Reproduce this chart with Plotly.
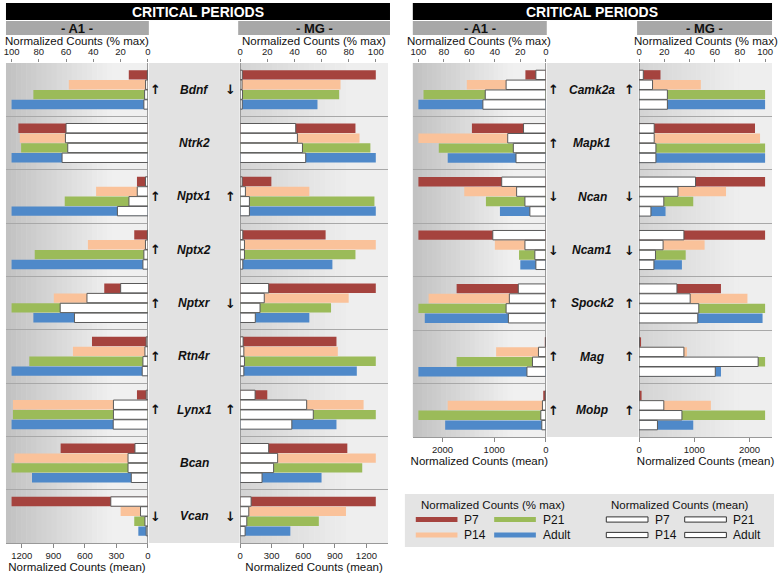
import plotly.graph_objects as go

# ---------------- data ----------------
PERIODS = ["P7", "P14", "P21", "Adult"]
COLORS = ["#A5433E", "#FAC29A", "#9BBB59", "#4F89C9"]

GENES_L = ["Bdnf", "Ntrk2", "Nptx1", "Nptx2", "Nptxr", "Rtn4r", "Lynx1", "Bcan", "Vcan"]
GENES_R = ["Camk2a", "Mapk1", "Ncan", "Ncam1", "Spock2", "Mag", "Mobp"]

# left panel, A1, % max
A1L_PCT_P7 = [14, 95, 8, 10, 32, 41, 8, 64, 100]
A1L_PCT_P14 = [58, 94, 38, 44, 69, 55, 99, 98, 20]
A1L_PCT_P21 = [84, 93, 61, 83, 100, 87, 99, 100, 10]
A1L_PCT_AD = [100, 100, 100, 100, 84, 100, 100, 85, 7]
# left panel, A1, mean counts
A1L_MEAN_P7 = [5, 779, 23, 5, 259, 16, 16, 123, 353]
A1L_MEAN_P14 = [22, 785, 101, 23, 580, 28, 328, 189, 70]
A1L_MEAN_P21 = [31, 763, 180, 38, 835, 47, 328, 189, 28]
A1L_MEAN_AD = [38, 817, 290, 47, 699, 54, 330, 158, 16]
# left panel, MG, % max
MGL_PCT_P7 = [100, 85, 23, 63, 100, 71, 20, 79, 100]
MGL_PCT_P14 = [74, 88, 51, 100, 80, 72, 91, 100, 78]
MGL_PCT_P21 = [73, 96, 99, 85, 67, 100, 100, 90, 58]
MGL_PCT_AD = [57, 100, 100, 68, 51, 86, 71, 60, 37]
# left panel, MG, mean counts
MGL_MEAN_P7 = [20, 528, 19, 25, 271, 28, 142, 271, 104]
MGL_MEAN_P14 = [18, 544, 50, 41, 229, 35, 632, 356, 82]
MGL_MEAN_P21 = [22, 592, 88, 41, 189, 41, 695, 318, 63]
MGL_MEAN_AD = [20, 623, 88, 25, 144, 35, 491, 208, 47]

# right panel, A1, % max
A1R_PCT_P7 = [16, 58, 100, 100, 70, 0.5, 2]
A1R_PCT_P14 = [62, 100, 64, 40, 92, 39, 77]
A1R_PCT_P21 = [96, 84, 47, 21, 100, 70, 100]
A1R_PCT_AD = [100, 77, 36, 20, 95, 100, 79]
# right panel, A1, mean counts
A1R_MEAN_P7 = [192, 431, 854, 1027, 533, 3, 10]
A1R_MEAN_P14 = [769, 738, 565, 404, 706, 142, 65]
A1R_MEAN_P21 = [1173, 629, 404, 212, 769, 258, 96]
A1R_MEAN_AD = [1219, 577, 308, 192, 725, 365, 77]
# right panel, MG, % max
MGR_PCT_P7 = [17, 92, 100, 100, 65, 0.8, 2]
MGR_PCT_P14 = [49, 96, 69, 52, 86, 38, 57]
MGR_PCT_P21 = [100, 100, 43, 37, 100, 100, 100]
MGR_PCT_AD = [100, 100, 21, 34, 98, 65, 43]
# right panel, MG, mean counts
MGR_MEAN_P7 = [77, 274, 1022, 812, 686, 5, 5]
MGR_MEAN_P14 = [244, 274, 704, 435, 925, 812, 448]
MGR_MEAN_P21 = [513, 305, 448, 297, 1081, 2156, 776]
MGR_MEAN_AD = [513, 305, 215, 269, 1063, 1380, 333]

ARROWS_A1L = ["↑", "", "↑", "↑", "↑", "↑", "↑", "", "↓"]
ARROWS_MGL = ["↓", "", "↑", "", "↓", "", "↑", "", "↓"]
ARROWS_A1R = ["↑", "↑", "↓", "↓", "↑", "↑", "↑"]
ARROWS_MGR = ["↑", "", "↓", "↓", "↑", "↑", "↑"]

PCT_TICKS = [0, 20, 40, 60, 80, 100]
MEAN_TICKS_L = [0, 300, 600, 900, 1200]
MEAN_TICKS_R = [0, 1000, 2000]

# ---------------- layout helpers ----------------
W, H = 778, 573
FONT = "Liberation Sans, Arial, sans-serif"


def fx(px):
    return px / W


def fy(py):
    return 1 - py / H


fig = go.Figure()

panels = [
    dict(genes=GENES_L, y="y", xp="x", xm="x2",
         pct=[A1L_PCT_P7, A1L_PCT_P14, A1L_PCT_P21, A1L_PCT_AD],
         mean=[A1L_MEAN_P7, A1L_MEAN_P14, A1L_MEAN_P21, A1L_MEAN_AD]),
    dict(genes=GENES_L, y="y", xp="x3", xm="x4",
         pct=[MGL_PCT_P7, MGL_PCT_P14, MGL_PCT_P21, MGL_PCT_AD],
         mean=[MGL_MEAN_P7, MGL_MEAN_P14, MGL_MEAN_P21, MGL_MEAN_AD]),
    dict(genes=GENES_R, y="y2", xp="x5", xm="x6",
         pct=[A1R_PCT_P7, A1R_PCT_P14, A1R_PCT_P21, A1R_PCT_AD],
         mean=[A1R_MEAN_P7, A1R_MEAN_P14, A1R_MEAN_P21, A1R_MEAN_AD]),
    dict(genes=GENES_R, y="y2", xp="x7", xm="x8",
         pct=[MGR_PCT_P7, MGR_PCT_P14, MGR_PCT_P21, MGR_PCT_AD],
         mean=[MGR_MEAN_P7, MGR_MEAN_P14, MGR_MEAN_P21, MGR_MEAN_AD]),
]

for p in panels:
    for k, per in enumerate(PERIODS):
        fig.add_trace(go.Bar(
            orientation="h", y=p["genes"], x=p["pct"][k], name=per,
            xaxis=p["xp"], yaxis=p["y"], marker=dict(color=COLORS[k], line=dict(width=0)),
            showlegend=False, hoverinfo="x+y+name"))
    for k, per in enumerate(PERIODS):
        fig.add_trace(go.Bar(
            orientation="h", y=p["genes"], x=p["mean"][k], name=per + " (mean)",
            xaxis=p["xm"], yaxis=p["y"],
            marker=dict(color="white", line=dict(color="#5a5a5a", width=1)),
            showlegend=False, hoverinfo="x+y+name"))

# panel pixel geometry
DOM_A1L = (3, 146)
DOM_MGL = (239, 388)
DOM_A1R = (413, 547)
DOM_MGR = (641, 775)
TOP = 63
BOT_L = 543
BOT_R = 437

tickfont = dict(family=FONT, size=9.5, color="#222")
titlefont = dict(family=FONT, size=11.5, color="#111")


def pct_axis(dom, rng, anchor):
    return dict(domain=[fx(dom[0]), fx(dom[1])], range=rng, side="top", anchor=anchor,
                tickvals=PCT_TICKS, ticks="outside", ticklen=3, tickcolor="#888",
                tickfont=tickfont, showgrid=False, showline=False,
                zeroline=True, zerolinecolor="#999", zerolinewidth=1,
                fixedrange=True)


def mean_axis(over, rng, ticks, anchor):
    return dict(overlaying=over, range=rng, side="bottom", anchor=anchor,
                tickvals=ticks, ticks="outside", ticklen=4, tickcolor="#888",
                tickfont=tickfont, showgrid=False, showline=True, linecolor="#999",
                zeroline=False,
                title=dict(text="Normalized Counts (mean)", font=titlefont, standoff=1),
                fixedrange=True)


def y_axis(genes, bot):
    return dict(domain=[fy(bot), fy(TOP)], type="category", categoryorder="array",
                categoryarray=genes, range=[len(genes) - 0.5, -0.5],
                showticklabels=False, ticks="", tickson="boundaries",
                showgrid=True, gridcolor="#a8a8a8", gridwidth=1, zeroline=False,
                showline=False, fixedrange=True)


fig.update_layout(
    width=W, height=H, autosize=False,
    margin=dict(l=0, r=0, t=0, b=0),
    paper_bgcolor="white", plot_bgcolor="rgba(0,0,0,0)",
    barmode="group", bargap=0.26, bargroupgap=0.05,
    font=dict(family=FONT, color="#111"),
    showlegend=False,
    xaxis=pct_axis(DOM_A1L, [104.1, 0], "y"),
    xaxis2=mean_axis("x", [1351, 0], MEAN_TICKS_L, "y"),
    xaxis3=pct_axis(DOM_MGL, [0, 109], "y"),
    xaxis4=mean_axis("x3", [0, 1405], MEAN_TICKS_L, "y"),
    xaxis5=pct_axis(DOM_A1R, [104.4, 0], "y2"),
    xaxis6=mean_axis("x5", [2577, 0], MEAN_TICKS_R, "y2"),
    xaxis7=pct_axis(DOM_MGR, [0, 105.5], "y2"),
    xaxis8=mean_axis("x7", [0, 2407], MEAN_TICKS_R, "y2"),
    yaxis=y_axis(GENES_L, BOT_L),
    yaxis2=y_axis(GENES_R, BOT_R),
)

shapes = []


def rect(x0, y0, x1, y1, color, line=None, layer="above"):
    d = dict(type="rect", xref="paper", yref="paper",
             x0=fx(x0), x1=fx(x1), y0=fy(y1), y1=fy(y0),
             fillcolor=color, layer=layer)
    d["line"] = line if line else dict(width=0)
    return d


def gradient(dom, bot, c_left, c_right, n=28):
    x0, x1 = dom
    out = []
    for i in range(n):
        t = i / (n - 1)
        g = int(round(c_left + (c_right - c_left) * min(1.0, t / 0.75)))
        col = f"rgb({g},{g},{g})"
        a = x0 + (x1 - x0) * i / n
        b = x0 + (x1 - x0) * (i + 1) / n + 0.6
        out.append(rect(a, TOP, min(b, x1), bot, col, layer="below"))
    return out


shapes += gradient(DOM_A1L, BOT_L, 194, 240)
shapes += gradient(DOM_MGL, BOT_L, 212, 238)
shapes += gradient(DOM_A1R, BOT_R, 194, 240)
shapes += gradient(DOM_MGR, BOT_R, 212, 238)

# centre bands
shapes.append(rect(147, TOP, 238.5, BOT_L, "#e2e2e2", layer="below"))
shapes.append(rect(548, TOP, 640.5, BOT_R, "#e2e2e2", layer="below"))

# title bars and headers
shapes.append(rect(3, 3, 390, 20, "#000000"))
shapes.append(rect(413, 3, 775, 20, "#000000"))
HEAD = "#a8a8a8"
shapes.append(rect(3, 21, 147, 35, HEAD))
shapes.append(rect(237, 21, 390, 35, HEAD))
shapes.append(rect(413, 21, 548, 35, HEAD))
shapes.append(rect(639, 21, 775, 35, HEAD))

# legend box
shapes.append(rect(405, 494, 777, 547, "#e4e4e4", layer="below"))

annotations = []


def text(x, y, s, size=11.5, color="#111", bold=False, italic=False, xanchor="center"):
    if bold:
        s = f"<b>{s}</b>"
    if italic:
        s = f"<i>{s}</i>"
    annotations.append(dict(xref="paper", yref="paper", x=fx(x), y=fy(y), text=s,
                            showarrow=False, xanchor=xanchor, yanchor="middle",
                            font=dict(family=FONT, size=size, color=color)))


text(196.5, 11.8, "CRITICAL PERIODS", size=14, color="white", bold=True)
text(594, 11.8, "CRITICAL PERIODS", size=14, color="white", bold=True)
text(75, 28.5, "- A1 -", size=13, bold=True)
text(313.5, 28.5, "- MG -", size=13, bold=True)
text(480.5, 28.5, "- A1 -", size=13, bold=True)
text(707, 28.5, "- MG -", size=13, bold=True)

# top axis titles
for dom in (DOM_A1L, DOM_MGL, DOM_A1R, DOM_MGR):
    text((dom[0] + dom[1]) / 2, 41.5, "Normalized Counts (% max)", size=11.5)


def gene_labels(genes, yref, xc, xa, xm, arr_a, arr_m):
    for g, a, m in zip(genes, arr_a, arr_m):
        annotations.append(dict(xref="paper", yref=yref, x=fx(xc), y=g, xanchor="center",
                                text=f"<b><i>{g}</i></b>", showarrow=False,
                                font=dict(family=FONT, size=12, color="#111")))
        if a:
            annotations.append(dict(xref="paper", yref=yref, x=fx(xa), y=g, xanchor="center",
                                    text=f"<b>{a}</b>", showarrow=False,
                                    font=dict(family="DejaVu Sans", size=13, color="#111")))
        if m:
            annotations.append(dict(xref="paper", yref=yref, x=fx(xm), y=g, xanchor="center",
                                    text=f"<b>{m}</b>", showarrow=False,
                                    font=dict(family="DejaVu Sans", size=13, color="#111")))


gene_labels(GENES_L, "y", 192.5, 153.5, 229, ARROWS_A1L, ARROWS_MGL)
gene_labels(GENES_R, "y2", 594, 555, 631, ARROWS_A1R, ARROWS_MGR)

# legend content
text(494, 505, "Normalized Counts (% max)", size=11.5)
text(682.5, 505, "Normalized Counts (mean)", size=11.5)
leg_pct = [(PERIODS[0], COLORS[0], 416, 519.5), (PERIODS[2], COLORS[2], 495, 519.5),
           (PERIODS[1], COLORS[1], 416, 535), (PERIODS[3], COLORS[3], 495, 535)]
for lab, col, x0, yc in leg_pct:
    shapes.append(rect(x0, yc - 2.6, x0 + 42, yc + 2.6, col))
    text(x0 + 47, yc, lab, size=12, xanchor="left")
leg_mean = [(PERIODS[0], 608, 519.5), (PERIODS[2], 687, 519.5),
            (PERIODS[1], 608, 535), (PERIODS[3], 687, 535)]
for lab, x0, yc in leg_mean:
    shapes.append(rect(x0, yc - 2.6, x0 + 42, yc + 2.6, "white",
                       line=dict(color="#333", width=1)))
    text(x0 + 47, yc, lab, size=12, xanchor="left")

fig.update_layout(shapes=shapes, annotations=annotations)

fig.write_html("out.html",
               config={"displayModeBar": False},
               post_script="document.body.style.margin='0px';"
                           "document.body.style.overflow='hidden';")
